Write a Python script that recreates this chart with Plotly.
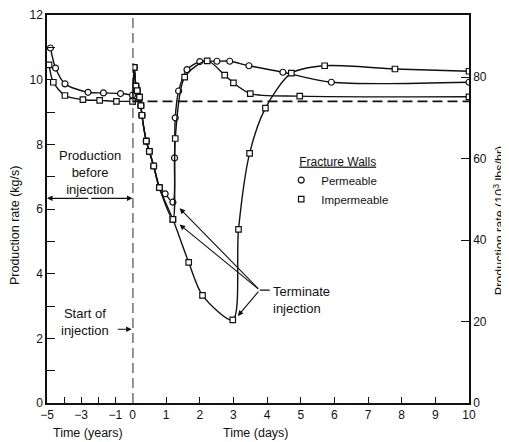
import plotly.graph_objects as go

# --- data ---
# before injection, time in years
pre_years_perm = [-4.8, -4.5, -3.95, -2.6, -1.7, -0.7, 0]
pre_rate_perm = [10.98, 10.36, 9.87, 9.61, 9.59, 9.57, 9.52]
pre_years_imp = [-4.88, -4.63, -3.95, -2.9, -1.92, -0.94, 0]
pre_rate_imp = [10.46, 9.92, 9.51, 9.38, 9.36, 9.33, 9.33]

# after start of injection, time in days (shared drawdown start)
draw_days = [0, 0.05, 0.1, 0.14, 0.21, 0.25, 0.28, 0.41, 0.5, 0.63, 0.8]
draw_rate = [10.38, 9.8, 9.66, 9.46, 9.2, 8.9, 8.1, 7.78, 7.33, 6.66]

# permeable walls, injection stopped at ~1.2 days
perm_days = [0.97, 1.2, 1.25, 1.27, 1.37, 1.62, 2.0, 2.51, 2.89, 3.46, 4.47, 5.91, 10]
perm_rate = [6.47, 6.21, 7.58, 8.82, 9.65, 10.31, 10.56, 10.57, 10.57, 10.43, 10.23, 9.92, 9.92]

# impermeable walls, injection stopped at ~1.2 days
imp_days = [1.2, 1.27, 1.55, 2.22, 2.74, 3.0, 3.5, 4.97, 10]
imp_rate = [5.68, 8.18, 10.08, 10.58, 10.14, 9.9, 9.57, 9.49, 9.47]

# impermeable walls, injection stopped at ~3 days
imp3_days = [1.2, 1.67, 2.08, 2.98, 3.15, 3.48, 3.95, 4.72, 5.71, 7.8, 10]
imp3_rate = [5.68, 4.35, 3.33, 2.57, 5.37, 7.72, 9.12, 10.2, 10.43, 10.33, 10.26]

rate_before = 9.33          # kg/s, dashed reference level
kgs_to_klbhr = 7.937        # 1 kg/s = 7.937 x 10^3 lbs/hr

INK = '#111111'
FONT = 'Liberation Sans, Arial, sans-serif'

perm_marker = dict(symbol='circle', size=6, color='white', line=dict(color=INK, width=1.2))
imp_marker = dict(symbol='square', size=5.5, color='white', line=dict(color=INK, width=1.2))
line_style = dict(color=INK, width=1.4, shape='spline', smoothing=0.8)
arrow = dict(showarrow=True, arrowhead=2, arrowsize=1, arrowwidth=1.1, arrowcolor=INK,
             standoff=0, startstandoff=0, text='')

fig = go.Figure()

# pre-injection curves on the years axis
fig.add_trace(go.Scatter(x=pre_years_perm, y=pre_rate_perm, mode='lines+markers',
                         line=line_style, marker=perm_marker, showlegend=False))
fig.add_trace(go.Scatter(x=pre_years_imp, y=pre_rate_imp, mode='lines+markers',
                         line=line_style, marker=imp_marker, showlegend=False))

# post-injection curves on the days axis
runs = [
    (pre_rate_perm[-1], perm_days, perm_rate, perm_marker),
    (pre_rate_imp[-1], imp_days, imp_rate, imp_marker),
    (pre_rate_imp[-1], imp3_days, imp3_rate, imp_marker),
]
for start, days, rate, mk in runs:
    fig.add_trace(go.Scatter(x=draw_days + days, y=[start] + draw_rate + rate,
                             xaxis='x2', yaxis='y', mode='lines+markers',
                             line=line_style, marker=mk, showlegend=False))

# same run in 10^3 lbs/hr so the right axis gets drawn (invisible)
fig.add_trace(go.Scatter(x=imp3_days, y=[r * kgs_to_klbhr for r in imp3_rate],
                         xaxis='x2', yaxis='y2', mode='lines', opacity=0,
                         hoverinfo='skip', showlegend=False))

# legend entries
fig.add_trace(go.Scatter(x=[None], y=[None], mode='markers', marker=perm_marker, name='Permeable'))
fig.add_trace(go.Scatter(x=[None], y=[None], mode='markers', marker=imp_marker, name='Impermeable'))

# dashed guide lines
fig.add_shape(type='line', xref='x2', yref='y', x0=0, x1=0, y0=0, y1=12,
              line=dict(color=INK, width=1.8, dash='10px,5px'))
fig.add_shape(type='line', xref='x2', yref='y', x0=0, x1=10, y0=rate_before, y1=rate_before,
              line=dict(color=INK, width=1.6, dash='10px,5px'))

# "Production before injection"
fig.add_annotation(x=-2.5, y=7.12, xref='x', yref='y', text='Production<br>before<br>injection',
                   showarrow=False, font=dict(size=13))
for tip in (-5, 0):
    fig.add_annotation(arrow, x=tip, y=6.33, ax=-2.5, ay=6.33, xref='x', yref='y',
                       axref='x', ayref='y')

# "Start of injection"
fig.add_annotation(x=-2.75, y=2.5, xref='x', yref='y', text='Start of<br>injection',
                   showarrow=False, font=dict(size=13))
fig.add_annotation(arrow, x=-0.05, y=2.28, ax=-0.95, ay=2.28, xref='x', yref='y',
                   axref='x', ayref='y')

# "Terminate injection" with its three arrows
hub = (3.78, 3.49)
for tx, ty in [(1.4, 6.02), (1.4, 5.52), (3.13, 2.69)]:
    fig.add_annotation(arrow, x=tx, y=ty, ax=hub[0], ay=hub[1], xref='x2', yref='y',
                       axref='x2', ayref='y')
fig.add_shape(type='line', xref='x2', yref='y', x0=hub[0], x1=4.08, y0=hub[1], y1=hub[1],
              line=dict(color=INK, width=1.1))
fig.add_annotation(x=4.12, y=3.2, xref='x2', yref='y', text='Terminate<br>injection',
                   showarrow=False, xanchor='left', align='left', font=dict(size=13))

# axis titles
fig.add_annotation(x=-2.6, y=-0.077, xref='x', yref='paper', text='Time (years)',
                   xanchor='center', yanchor='middle', showarrow=False, font=dict(size=12.5))
fig.add_annotation(x=3.66, y=-0.077, xref='x2', yref='paper', text='Time (days)',
                   xanchor='center', yanchor='middle', showarrow=False, font=dict(size=12.5))
fig.add_annotation(x=-0.0755, y=0.459, xref='paper', yref='paper', text='Production rate (kg/s)',
                   xanchor='center', yanchor='middle', textangle=-90, showarrow=False,
                   font=dict(size=12.5))
fig.add_annotation(x=1.07, y=0.47, xref='paper', yref='paper',
                   text='Production rate (10<sup>3</sup> lbs/hr)',
                   xanchor='center', yanchor='middle', textangle=-90, showarrow=False,
                   font=dict(size=12.5))

split = 85.5 / 422

axis_common = dict(showline=True, linecolor=INK, linewidth=1.5, showgrid=False, zeroline=False,
                   automargin=False, ticks='inside', tickcolor=INK, tickwidth=1.2,
                   tickfont=dict(size=12, color=INK))

# page body has an 8px margin, so the figure is 8px smaller than the window
fig.update_layout(
    width=501, height=434,
    margin=dict(l=39, r=40, t=7, b=39),
    paper_bgcolor='white', plot_bgcolor='white',
    font=dict(family=FONT, color=INK),
    xaxis=dict(axis_common, domain=[0, split], range=[-5, 0], mirror=True, anchor='y',
               tickmode='array', tickvals=[-5, -3, -1, 0], ticklen=6,
               minor=dict(tickvals=[-4, -2], ticks='inside', ticklen=6, tickcolor=INK)),
    xaxis2=dict(axis_common, domain=[split, 1], range=[0, 10], mirror=True, anchor='y',
                tickmode='array', tickvals=list(range(1, 11)), ticklen=6),
    yaxis=dict(axis_common, range=[0, 12], anchor='x', dtick=2, ticklen=8,
               minor=dict(dtick=1, ticks='inside', ticklen=8, tickcolor=INK)),
    yaxis2=dict(axis_common, range=[0, 12 * kgs_to_klbhr], anchor='x2', overlaying='y',
                side='right', tickmode='array', tickvals=[0, 20, 40, 60, 80], ticklen=8),
    legend=dict(x=0.555, y=0.652, xanchor='left', yanchor='top', bgcolor='rgba(0,0,0,0)',
                font=dict(size=11.5), itemwidth=30, tracegroupgap=0,
                title=dict(text='<u>Fracture Walls</u>', side='top center', font=dict(size=12))),
)

fig.write_html("out.html")
